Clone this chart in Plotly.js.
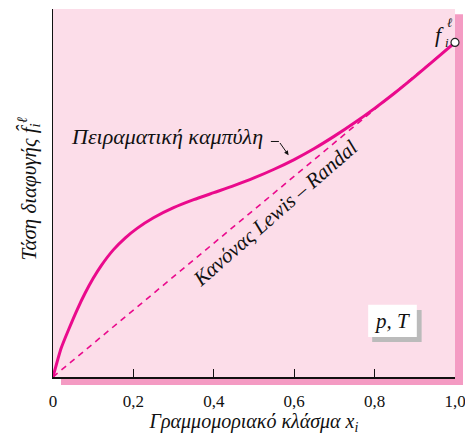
<!DOCTYPE html>
<html><head><meta charset="utf-8">
<script src="https://cdn.plot.ly/plotly-3.0.1.min.js"></script>
<style>html,body{margin:0;padding:0;background:#fff}</style>
</head><body><div id="chart" style="width:465px;height:435px"></div>
<script>
// Experimental fugacity curve (x_i, f_i / f_i^l)
const curveX = [0, 0.02, 0.04, 0.06, 0.08, 0.1, 0.12, 0.15, 0.18, 0.21, 0.25, 0.3, 0.35, 0.4, 0.45, 0.5, 0.55, 0.6, 0.65, 0.7, 0.75, 0.8, 0.85, 0.9, 0.95, 1.0];
const curveY = [0, 0.085, 0.145, 0.201, 0.251, 0.295, 0.333, 0.38, 0.416, 0.445, 0.476, 0.506, 0.53, 0.551, 0.572, 0.595, 0.621, 0.65, 0.683, 0.72, 0.76, 0.803, 0.849, 0.898, 0.949, 1.0];
// Lewis-Randall rule line
const lrX = [0, 1];
const lrY = [0, 1];
// Pure-liquid fugacity point
const pureX = [1];
const pureY = [1];
// Tick labels
const tickVals = [0, 0.2, 0.4, 0.6, 0.8, 1.0];
const tickText = ['0', '0,2', '0,4', '0,6', '0,8', '1,0'];

const magenta = '#EA0A8C';
const serif = 'Liberation Serif, Times New Roman, serif';

const traces = [
  {x: lrX, y: lrY, mode: 'lines', line: {color: magenta, width: 1.6, dash: '6px,5px'}, hoverinfo: 'skip'},
  {x: curveX, y: curveY, mode: 'lines', line: {color: magenta, width: 3, shape: 'spline', smoothing: 0.6}, hoverinfo: 'skip'},
  {x: pureX, y: pureY, mode: 'markers', marker: {color: '#ffffff', size: 8, line: {color: '#222', width: 1.2}}, cliponaxis: false, hoverinfo: 'skip'}
];

const layout = {
  width: 465, height: 435,
  margin: {l: 53, r: 10, t: 9, b: 58},
  paper_bgcolor: '#ffffff',
  plot_bgcolor: '#FCDDE9',
  showlegend: false,
  font: {family: serif, color: '#111'},
  xaxis: {
    range: [0, 1], showgrid: false, zeroline: false,
    showline: true, linecolor: '#111', linewidth: 1.5,
    ticks: 'inside', ticklen: 8, tickwidth: 1.3, tickcolor: '#111',
    tickvals: tickVals, ticktext: tickText,
    tickfont: {family: serif, size: 17, color: '#111'},
    ticklabelstandoff: 8,
    ticklabeloverflow: 'allow',
    title: {text: '<i>Γραμμομοριακό κλάσμα x<sub>i</sub></i>', font: {family: serif, size: 20, color: '#111'}, standoff: 6}
  },
  yaxis: {
    range: [0, 1.1], showgrid: false, zeroline: false,
    showline: true, linecolor: '#111', linewidth: 1.5,
    ticks: '', showticklabels: false
  },
  shapes: [
    {type: 'rect', xref: 'paper', yref: 'paper', x0: 1, x1: 1.0199, y0: -0.0217, y1: 0.986, fillcolor: '#F49BC3', line: {width: 0}, layer: 'below'},
    {type: 'rect', xref: 'paper', yref: 'paper', x0: 0.0199, x1: 1.0199, y0: -0.0217, y1: 0, fillcolor: '#F49BC3', line: {width: 0}, layer: 'below'},
    {type: 'rect', xref: 'paper', yref: 'paper', x0: 0.794, x1: 0.917, y0: 0.095, y1: 0.182, fillcolor: '#BBBBBB', line: {width: 0}},
    {type: 'rect', xref: 'paper', yref: 'paper', x0: 0.784, x1: 0.905, y0: 0.109, y1: 0.196, fillcolor: '#FFFFFF', line: {width: 0}},
    {type: 'line', xref: 'x', yref: 'y', x0: 0.542, x1: 0.562, y0: 0.704, y1: 0.704, line: {color: '#111', width: 1}}
  ],
  annotations: [
    {x: -0.062, y: 0.51, xref: 'paper', yref: 'paper', xanchor: 'center', yanchor: 'middle', textangle: -90, text: '<i>Τάση διαφυγής f̂<sub>i</sub><sup>ℓ</sup></i>', showarrow: false, font: {family: serif, size: 21, color: '#111'}},
    {x: 0.284, y: 0.719, xref: 'x', yref: 'y', text: '<i>Πειραματική καμπύλη</i>', showarrow: false, font: {family: serif, size: 22, color: '#111'}},
    {x: 0.586, y: 0.663, xref: 'x', yref: 'y', ax: 0.562, ay: 0.704, axref: 'x', ayref: 'y', text: '', showarrow: true, arrowhead: 2, arrowsize: 0.9, arrowwidth: 1, arrowcolor: '#111'},
    {x: 0.553, y: 0.49, xref: 'x', yref: 'y', text: '<i>Κανόνας Lewis – Randal</i>', textangle: -41, showarrow: false, font: {family: serif, size: 21, color: '#111'}},
    {x: 0.962, y: 1.025, xref: 'x', yref: 'y', text: '<i>f</i>', showarrow: false, font: {family: serif, size: 22, color: '#111'}},
    {x: 0.987, y: 1.06, xref: 'x', yref: 'y', text: '<i>ℓ</i>', showarrow: false, font: {family: serif, size: 13, color: '#111'}},
    {x: 0.979, y: 1.0, xref: 'x', yref: 'y', text: '<i>i</i>', showarrow: false, font: {family: serif, size: 13, color: '#111'}},
    {x: 0.844, y: 0.152, xref: 'paper', yref: 'paper', xanchor: 'center', yanchor: 'middle', text: '<i>p, T</i>', showarrow: false, font: {family: serif, size: 21, color: '#111'}}
  ]
};

Plotly.newPlot('chart', traces, layout, {displayModeBar: false, staticPlot: true});
</script>
</body></html>
